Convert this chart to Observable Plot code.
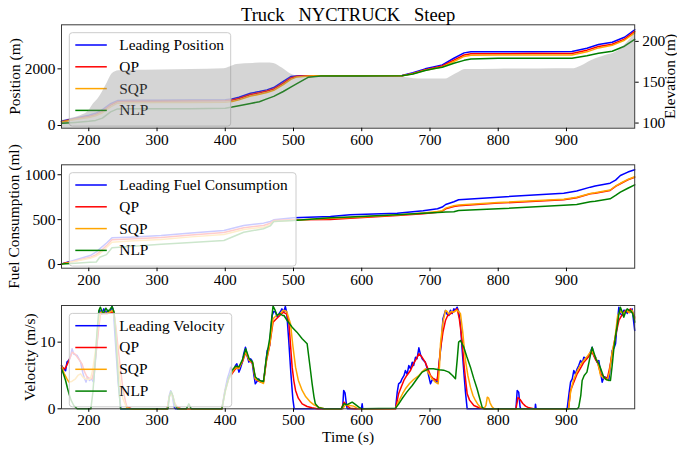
<!DOCTYPE html>
<html>
<head>
<meta charset="utf-8">
<script src="https://cdn.jsdelivr.net/npm/d3@7"></script>
<script src="https://cdn.jsdelivr.net/npm/@observablehq/plot@0.6"></script>
<style>
  html, body { margin: 0; padding: 0; background: #fff; }
  #fig { position: relative; width: 677px; height: 450px; overflow: hidden; }
  #fig svg { position: absolute; left: 0; }
</style>
</head>
<body>
<div id="fig"></div>
<script>
// ---- data ----
const tTicks = [200, 300, 400, 500, 600, 700, 800, 900];
const seriesNames = ["Leading", "QP", "SQP", "NLP"];
const seriesColors = ["blue", "red", "orange", "green"];

// position (m)
const posTime = [160,180,200,210,220,232,242,260,300,350,400,410,420,437,450,461,471,485,496,505,522,540,600,659,675,693,705,718,735,750,760,800,850,908,930,947,967,985,1000];
const posLead = [150,260,360,430,560,770,880,890,895,900,910,940,1000,1140,1200,1258,1340,1560,1728,1752,1755,1758,1760,1765,1860,2000,2070,2141,2375,2564,2600,2605,2608,2612,2730,2857,2938,3116,3380];
const posQP   = [135,235,320,385,500,720,840,855,860,865,872,900,955,1095,1155,1215,1290,1500,1680,1740,1752,1755,1757,1760,1840,1970,2030,2100,2310,2490,2530,2535,2538,2540,2660,2790,2870,3050,3320];
const posSQP  = [120,210,285,345,450,660,790,805,810,815,825,850,905,1040,1100,1165,1240,1440,1630,1715,1750,1753,1755,1758,1830,1950,2005,2070,2260,2440,2480,2485,2488,2490,2600,2740,2830,3010,3270];
const posNLP  = [80,110,150,180,260,480,585,588,590,592,610,650,700,780,840,940,1030,1200,1352,1480,1705,1750,1752,1755,1820,1940,2000,2057,2200,2300,2350,2370,2375,2378,2460,2552,2622,2800,3040];
const posTicks = [0, 2000];

// road elevation (m)
const elevTime = [160,175,188,200,207,214,220,227,234,244,260,305,350,398,408,417,441,460,471,484,496,510,560,600,656,683,723,733,742,752,800,860,908,922,937,957,972,985,1000];
const elev     = [103,106,109,115,123.5,130,138,149,160,164,164.5,165,165.5,166.5,169,171.7,173,173.5,173,167,160,157,156.5,156.5,156,154,154,158,162,165.5,166,166.3,166.4,170,176.6,182.7,186.7,195,210];
const elevTicks = [100, 150, 200];

// fuel consumption (ml)
const fuelTime = [160,180,202,211,216,226,234,260,306,350,398,427,456,466,471,500,554,583,652,690,711,718,723,735,742,800,896,915,935,942,964,972,979,990,1000];
const fuelLead = [7,50,100,140,175,240,297,305,323,350,379,435,461,480,498,520,535,554,572,600,621,640,669,700,721,750,795,820,862,875,906,940,992,1030,1056];
const fuelQP   = [7,40,80,110,140,210,275,285,300,328,357,410,435,460,490,498,502,515,546,565,583,595,621,647,654,684,721,744,788,795,825,870,900,944,973];
const fuelSQP  = [7,35,70,95,120,190,249,262,280,308,334,390,416,440,480,494,515,525,552,575,590,600,628,655,662,690,728,750,792,800,830,875,905,948,978];
const fuelNLP  = [7,15,26,28,81,110,186,200,225,245,268,360,398,430,479,490,520,530,555,570,580,583,584,588,602,620,660,669,700,706,732,770,806,850,888];
const fuelTicks = [0, 500, 1000];

// velocity (m/s), [time, value]
const velLead = [[160,6.5],[163,6.0],[166,5.7],[168,7.0],[171,7.3],[173,7.75],[175.5,9.0],[178,8.2],[183,8.0],[188,7.0],[191,5.5],[193,4.75],[196,4.0],[198,4.8],[201,4.25],[204,4.5],[207,4.0],[210,7.5],[213,11],[216,14.8],[219,14.2],[222,15.0],[225,14.3],[228,14.8],[231,14.4],[234,15.35],[236,14.8],[239,10],[243,4],[247,0],[315,0],[318,2.0],[320,2.7],[322,2.2],[325,0.3],[327,0],[395,0],[399,2.5],[403,4.5],[406,5.5],[408,6.25],[410,5.5],[412.6,5.75],[415,6.5],[417,6.75],[420,5.5],[422,6.0],[425,7.0],[427,8.25],[429.6,9.25],[432,8.0],[434.5,7.0],[437,7.5],[439,7.25],[442,5.0],[444,3.75],[447,4.2],[449,4.5],[452,4.0],[456.5,4.25],[459,6.5],[461.4,8.75],[465,9.5],[467,12],[468.7,14],[471,14.6],[473.6,14.5],[476,13.8],[478.5,14.25],[481,14.6],[483,15],[486,14.6],[488,15.35],[490,14.5],[493,10.25],[496,5.5],[499,1.5],[501,0],[572,0],[573.5,2.75],[575.5,2.4],[578,0.3],[579,0],[599.5,0],[600.6,0.75],[601.5,0],[649.5,0],[652,2.5],[654,3.75],[657,4.0],[659,4.5],[662,5.0],[664,5.75],[666.5,5.2],[669,6.5],[671.5,6.0],[674,7.0],[676,6.5],[678.8,7.75],[681,7.5],[683.7,9.15],[686,8.2],[688.5,7.5],[691,7.2],[693,7.0],[696,6.0],[698,5.0],[700.8,3.75],[703,4.3],[705.6,4.5],[708,4.1],[710.5,4.0],[713,6.5],[715.4,8.75],[717,10.5],[719,13.5],[722.7,14.75],[725,14.2],[727.6,14.0],[730,14.8],[732.5,14.3],[735,15],[737,14.8],[739.8,15.25],[742,14.6],[744.7,12.75],[747,9],[750,5],[752,2.5],[754.5,0],[826,0],[827.8,2.75],[830,2.5],[832,0.3],[833,0],[854,0],[854.6,0.7],[855.5,0],[901,0],[904,2.5],[906,4.0],[908.5,4.5],[910.8,5.75],[913,5.2],[915.7,6.0],[918,6.5],[920.6,7.25],[923,6.8],[925.5,7.75],[929,7.5],[932.8,8.0],[935,8.5],[937.7,9.25],[940,8.0],[942.6,7.75],[945,7.0],[947.4,7.25],[950,5.5],[952.3,4.0],[955,4.8],[957.2,4.75],[960,4.6],[962,4.25],[964.5,6.5],[967,8.75],[970,9.2],[971.9,9.75],[974,12.5],[976.8,15.25],[979,14.3],[981.6,14.0],[984,14.8],[986.5,14.75],[989,14.3],[991.4,14.75],[994,14.5],[996.3,15.0],[998,13.5],[1000,11.75]];
const velQP = [[160,6.25],[165,6.0],[170,7.0],[175.6,8.5],[180,8.2],[183,7.75],[187,7.2],[190,6.75],[194,5.5],[197.6,4.75],[201,4.6],[205,4.5],[208,6.0],[212,9.75],[215,12.5],[217,14.25],[222,14.3],[227,14.25],[232,14.5],[236.7,14.5],[240,12],[243,9],[246.5,6.0],[250,3],[254,1],[256,0.25],[262,0.05],[270,0],[315,0],[318,1.8],[320.5,2.5],[323,2.0],[326,0.8],[330,0.2],[335,0],[395,0],[400,2.8],[405,4.5],[410,5.3],[415,6.0],[420,6.2],[425,7.0],[430,8.5],[435,7.3],[440,6.8],[444,4.5],[448,4.2],[452,4.0],[456,4.0],[460,7.0],[465,9.5],[470,13],[475,13.5],[480,14.0],[485,14.5],[490,14.2],[493,13.25],[496,9],[498,6.25],[500.5,4.2],[503,2.75],[507,1.6],[512.7,0.75],[520,0.35],[527,0.15],[535,0],[570,0],[574,1.0],[578,0.5],[583,0.1],[590,0],[649.5,0],[654,2.25],[658,3.3],[661.7,4.25],[666,5.0],[671.4,5.75],[676,6.8],[680,7.5],[683.7,8.25],[688,7.8],[693,7.0],[697,6.0],[700.8,5.0],[705,4.5],[710.5,4.25],[713,6.5],[715.4,9.0],[719,11.5],[722.7,13.25],[726,14.0],[730,14.25],[735,14.6],[739.8,15.0],[743,13.5],[747,10.25],[750,6.5],[752,4.5],[754.5,2.25],[758,1.3],[764.3,0.5],[772,0.15],[780,0],[826,0],[829,1.7],[832,1.4],[836,0.8],[840,0.4],[845,0.15],[852,0],[903,0],[906,2.75],[910,3.8],[915.7,5.25],[920,6.0],[925.5,7.0],[930,7.5],[937.7,8.5],[942,7.5],[946,6.8],[950,5.25],[955,4.8],[959.7,4.5],[963,6.0],[967,8.25],[971,10.5],[976.8,13.25],[981,14.0],[986.5,14.75],[990,14.5],[993.9,15.0],[997,14.5],[1000,13.75]];
const velSQP = [[160,6.5],[164,5.3],[168,4.5],[171,4.0],[175,4.1],[180.5,4.5],[184,5.0],[188,5.25],[191,4.8],[195,4.5],[199,4.4],[202.5,4.5],[206,6.0],[209.8,8.75],[213,12],[217,14.5],[222,14.4],[227,14.3],[232,14.6],[236,14.8],[239,12.5],[242,8],[246,4],[250,1.5],[255,0.3],[260,0],[315,0],[318,1.8],[320.5,2.4],[323,1.8],[327,0.5],[332,0],[395,0],[400,2.6],[405,4.5],[410,5.5],[415,6.2],[420,6.0],[425,7.2],[430,8.6],[435,7.3],[440,7.0],[444,4.5],[448,4.3],[452,4.0],[456,3.8],[460,7.2],[465,9.6],[470,13.5],[475,14.0],[480,14.2],[485,14.8],[490,14.6],[495.6,12.75],[499,9.5],[503,6.25],[507,4.3],[512.7,2.75],[518,1.8],[525,1.0],[530,0.6],[537,0.25],[545,0],[572,0],[576,0.6],[582,0.5],[588,0.4],[595,0],[649.5,0],[655,1.3],[660,2.3],[664,3.0],[670,3.8],[676,4.4],[683.7,5.0],[688,5.5],[693.4,6.0],[697,5.5],[700,5.0],[703,4.5],[708,4.0],[712,3.75],[714,6.5],[715.4,9.75],[719,13],[722.7,14.75],[725,14.6],[727.6,14.25],[731,14.6],[735,14.5],[739,14.8],[742,14.6],[744.7,14.25],[748,11.5],[752,7.25],[755.5,5],[759.3,3.25],[763,2.0],[766.6,1.25],[770,0.7],[774,0.25],[779,0],[782,0.5],[784,1.75],[786,1.6],[788,0.9],[791,0.3],[794,0],[903,0],[906,2.5],[910,4.2],[915,5.5],[920,6.5],[925,7.2],[930,7.8],[937,8.8],[942,7.8],[946,7.0],[950,5.0],[955,4.6],[960,4.3],[963,5.5],[967,8.5],[971,10.5],[975,14.0],[979,14.6],[984,14.3],[988,14.8],[992,14.4],[996,14.8],[1000,13.5]];
const velNLP = [[160,6.0],[163,5.2],[166,4.25],[168.5,3.2],[171,2.25],[174,1.3],[178,0.5],[183,0],[203,0],[206,2.5],[209.8,7.75],[212,11.5],[214.7,14.75],[217,15.25],[220,14.5],[222,14.4],[225,15.1],[228,14.6],[231,14.9],[234.2,15.35],[237,14.5],[239,11.75],[242,6.5],[244,3],[246.5,0],[316,0],[318,1.8],[320.5,2.6],[323,2.0],[326,0.6],[330,0],[343,0],[346.6,0.75],[350,0],[395,0],[400,2.7],[405,4.6],[410,5.8],[415,6.4],[420,6.3],[425,7.3],[430,9.0],[435,7.5],[440,7.0],[444,4.8],[448,4.4],[452,4.2],[456,4.1],[460,7.5],[465,10.5],[468,13.5],[470,15.4],[473,14.8],[476,14.0],[480,14.3],[484,14.0],[486,14.0],[490.7,13.25],[498,12.25],[505,11.5],[512.7,10.5],[520,9.75],[524,6.5],[527.3,3.75],[530,1.8],[532,0.75],[537,0.15],[545,0],[570,0],[573.7,0.75],[578,0.6],[582,0.8],[586,1.0],[590,0.7],[595.7,0.25],[600,0],[649.5,0.1],[654,0.7],[659,1.5],[666,2.5],[674,3.5],[681,4.5],[688.5,5.5],[698,6.0],[705,6.0],[713,5.85],[720,5.8],[727.6,5.5],[733,5.0],[737.3,4.5],[740,7.5],[742,10],[744.7,10.25],[749.5,9.25],[754,7.8],[759.3,6.25],[764,4.6],[769,3.0],[773,1.5],[776.4,0.25],[779,0],[916,0],[918,0.25],[921,2.0],[923,4.25],[926,5.0],[930,5.5],[934,7.5],[937.6,9.25],[940,8.5],[943,7.5],[947.4,6.75],[951,5.8],[954.7,4.75],[958,4.4],[961,4.3],[964.5,4.25],[967,6.5],[969.4,9.0],[972,11],[974,12.25],[976.5,14.0],[979,15.25],[982,14.5],[984,13.75],[986.5,14.5],[989,15.0],[991.5,14.8],[993.8,14.75],[997,14.3],[999.7,13.25],[1000,13.0]];
const velTicks = [0, 10];

// ---- layout ----
const W = 677;
const mLeft = 61, mRight = 42.8;
const tDomain = [160, 1000];
const posDomain = [-95, 3555];
const elevDomain = [93.7, 220.3];
const fuelDomain = [-41, 1111];
const velDomain = [0, 15.5];
const frameColor = "#3a3a3a";

const baseStyle = {
  fontFamily: '"Liberation Serif", "Times New Roman", serif',
  fontSize: "15.4px",
  color: "black",
  background: "transparent",
  overflow: "visible"
};

// elevation shares the position panel through a linear twin-axis map
const kElev = (posDomain[1] - posDomain[0]) / (elevDomain[1] - elevDomain[0]);
const elevToPos = e => posDomain[0] + (e - elevDomain[0]) * kElev;
const posToElev = p => elevDomain[0] + (p - posDomain[0]) / kElev;

const zipRows = (ts, vs) => ts.map((t, i) => ({t, v: vs[i]}));
const pairRows = ps => ps.map(([t, v]) => ({t, v}));

function seriesLines(rowsList) {
  return rowsList.map((rows, i) =>
    Plot.line(rows, {x: "t", y: "v", stroke: seriesColors[i], strokeWidth: 1.5}));
}

// semi-transparent framed legend in the upper-left corner of a panel
function legendBox(labels, boxWidth) {
  return (index, scales, values, dims) => {
    const g = d3.create("svg:g")
      .attr("font-family", baseStyle.fontFamily)
      .attr("font-size", 15.4)
      .attr("text-anchor", "start");
    const x0 = dims.marginLeft + 8.3, y0 = dims.marginTop + 8.4;
    g.append("rect")
      .attr("x", x0).attr("y", y0)
      .attr("width", boxWidth).attr("height", 93.4)
      .attr("rx", 3)
      .attr("fill", "white").attr("fill-opacity", 0.8)
      .attr("stroke", "#cccccc").attr("stroke-width", 1);
    labels.forEach((label, i) => {
      const cy = y0 + 12.3 + i * 21.8;
      g.append("line")
        .attr("x1", x0 + 6).attr("x2", x0 + 37.5)
        .attr("y1", cy).attr("y2", cy)
        .attr("stroke", seriesColors[i]).attr("stroke-width", 1.5);
      g.append("text")
        .attr("x", x0 + 50).attr("y", cy).attr("dy", "0.32em")
        .attr("text-anchor", "start")
        .attr("fill", "black")
        .text(label);
    });
    return g.node();
  };
}

function axes(yTicks) {
  return [
    Plot.frame({stroke: frameColor, strokeWidth: 1}),
    Plot.axisX({ticks: tTicks, tickSize: 3.5, tickPadding: 2, tickFormat: "d", label: null}),
    Plot.axisY({ticks: yTicks, tickSize: 3.5, tickPadding: 2.5, tickFormat: "d", label: null})
  ];
}

// vertical axis title centred beside the frame
const sideTitle = (label, shift, anchor = "left") =>
  Plot.text([label], {
    text: d => d, frameAnchor: anchor, dx: shift, rotate: -90,
    textAnchor: "middle", lineAnchor: "middle"
  });

const fig = document.getElementById("fig");

// ---- panel 1: position + elevation ----
const p1 = Plot.plot({
  width: W, height: 150,
  marginLeft: mLeft, marginRight: mRight, marginTop: 24.3, marginBottom: 22.3,
  x: {domain: tDomain, axis: null},
  y: {domain: posDomain, axis: null},
  style: baseStyle,
  marks: [
    ...seriesLines([zipRows(posTime, posLead), zipRows(posTime, posQP), zipRows(posTime, posSQP), zipRows(posTime, posNLP)]),
    legendBox(["Leading Position", "QP", "SQP", "NLP"], 161.4),
    Plot.areaY(zipRows(elevTime, elev), {
      x: "t", y1: posDomain[0], y2: d => elevToPos(d.v),
      fill: "gray", fillOpacity: 0.33, curve: "monotone-x"
    }),
    ...axes(posTicks),
    Plot.axisY({
      anchor: "right", ticks: elevTicks.map(elevToPos),
      tickFormat: p => String(Math.round(posToElev(p))),
      tickSize: 3.5, tickPadding: 4, label: null
    }),
    sideTitle("Position (m)", -46),
    sideTitle("Elevation (m)", 35, "right"),
    Plot.text(["Truck\u00a0\u00a0\u00a0NYCTRUCK\u00a0\u00a0\u00a0Steep"], {
      text: d => d, frameAnchor: "top", lineAnchor: "bottom", dy: -3.6, fontSize: 18.5
    })
  ]
});
p1.style.top = "0px";
fig.appendChild(p1);

// ---- panel 2: fuel consumption ----
const p2 = Plot.plot({
  width: W, height: 138,
  marginLeft: mLeft, marginRight: mRight, marginTop: 14.3, marginBottom: 20.3,
  x: {domain: tDomain, axis: null},
  y: {domain: fuelDomain, axis: null},
  style: baseStyle,
  marks: [
    ...seriesLines([zipRows(fuelTime, fuelLead), zipRows(fuelTime, fuelQP), zipRows(fuelTime, fuelSQP), zipRows(fuelTime, fuelNLP)]),
    legendBox(["Leading Fuel Consumption", "QP", "SQP", "NLP"], 226.7),
    ...axes(fuelTicks),
    sideTitle("Fuel Consumption (ml)", -47)
  ]
});
p2.style.top = "150px";
fig.appendChild(p2);

// ---- panel 3: velocity ----
const p3 = Plot.plot({
  width: W, height: 162,
  marginLeft: mLeft, marginRight: mRight, marginTop: 17, marginBottom: 41.7,
  x: {domain: tDomain, axis: null},
  y: {domain: velDomain, axis: null},
  style: baseStyle,
  marks: [
    ...seriesLines([pairRows(velLead), pairRows(velQP), pairRows(velSQP), pairRows(velNLP)]),
    legendBox(["Leading Velocity", "QP", "SQP", "NLP"], 162.4),
    ...axes(velTicks),
    sideTitle("Velocity (m/s)", -31.5),
    Plot.text(["Time (s)"], {text: d => d, frameAnchor: "bottom", lineAnchor: "bottom", dy: 33})
  ]
});
p3.style.top = "288px";
fig.appendChild(p3);
</script>
</body>
</html>
